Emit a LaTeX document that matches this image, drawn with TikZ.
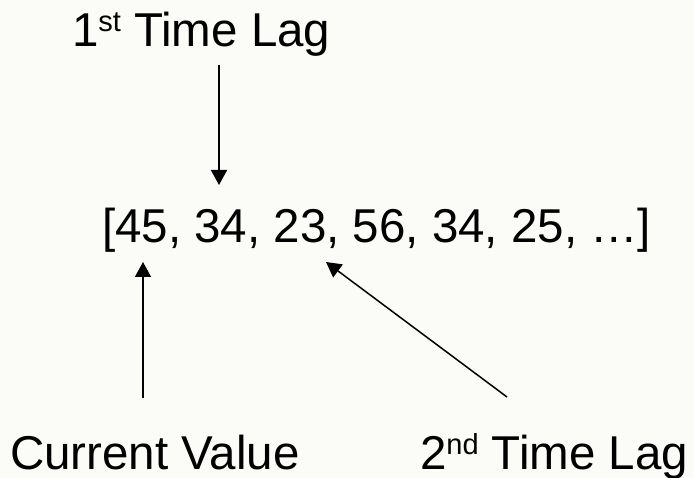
\documentclass[tikz,border=0pt]{standalone}
\usepackage{fontspec}
\setmainfont{Liberation Sans}
\usetikzlibrary{arrows.meta}
\definecolor{bgcol}{HTML}{FBFBF8}
\newcommand{\supstyle}[1]{\raisebox{15pt}{\fontsize{29}{29}\selectfont #1}}
\begin{document}
\begin{tikzpicture}[x=1pt,y=-1pt,
  lbl/.style={anchor=base west,inner sep=0pt,outer sep=0pt,font=\fontsize{47.5}{50}\selectfont},
  arr/.style={draw=black,line width=1.5pt,-{Triangle[width=16pt,length=15pt]}}]
\fill[bgcol] (0,0) rectangle (694,478);
\useasboundingbox (0,0) rectangle (694,478);
\node[lbl] (lag1) at (72,47) {1\supstyle{st} Time Lag};
\node[lbl] (list) at (102,243) {[45, 34, 23, 56, 34, 25, …]};
\node[lbl] (cur) at (10,469) {Current Value};
\node[lbl] (lag2) at (420,469) {2\supstyle{nd} Time Lag};
\coordinate (a1s) at (219,65);
\coordinate (a1e) at (219,185);
\coordinate (a2s) at (143,398);
\coordinate (a2e) at (143,262);
\coordinate (a3s) at (507,397);
\coordinate (a3e) at (326,262);
\draw[arr] (a1s) -- (a1e);
\draw[arr] (a2s) -- (a2e);
\draw[arr] (a3s) -- (a3e);
\end{tikzpicture}
\end{document}
